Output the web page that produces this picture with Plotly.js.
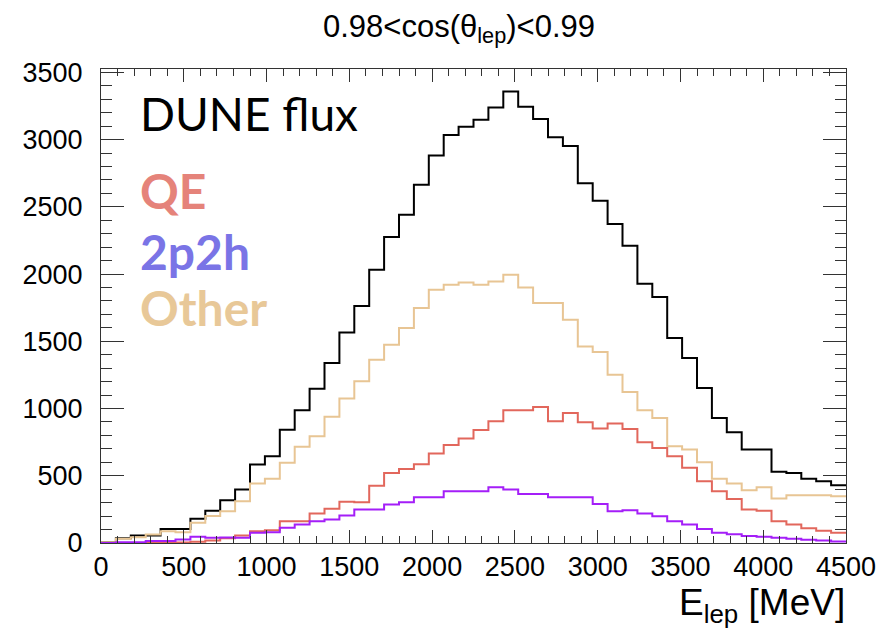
<!DOCTYPE html>
<html>
<head>
<meta charset="utf-8">
<script src="https://cdn.plot.ly/plotly-3.0.1.min.js"></script>
<style>html,body{margin:0;padding:0;background:#fff;}#chart{width:889px;height:631px;}</style>
</head>
<body>
<div id="chart"></div>
<script>
// Histogram binning: 50 bins of 90 MeV from 0 to 4500 MeV
const binWidth = 90;
const nBins = 50;

// Bin contents (events per bin)
const dune_flux = [5, 35, 56, 56, 105, 105, 180, 240, 318, 397,
  583, 645, 843, 987, 1148, 1339, 1566, 1762, 2032, 2275,
  2441, 2664, 2882, 3035, 3095, 3147, 3238, 3357, 3245, 3154,
  3018, 2953, 2676, 2546, 2372, 2210, 1928, 1829, 1525, 1376,
  1153, 930, 823, 695, 695, 530, 521, 478, 460, 430];

const other = [6, 31, 43, 63, 88, 80, 150, 200, 236, 311,
  442, 477, 596, 715, 794, 938, 1074, 1202, 1363, 1475,
  1599, 1748, 1883, 1921, 1938, 1921, 1945, 1995, 1901, 1785,
  1785, 1661, 1462, 1421, 1252, 1123, 987, 930, 719, 695,
  600, 477, 442, 392, 415, 331, 355, 355, 355, 348];

const qe = [0, 0, 0, 0, 0, 3, 10, 18, 35, 56,
  88, 95, 162, 162, 219, 254, 306, 303, 425, 521,
  551, 585, 665, 728, 778, 840, 905, 987, 987, 1012,
  905, 967, 898, 852, 888, 848, 749, 707, 645, 559,
  459, 385, 327, 249, 240, 162, 137, 110, 91, 76];

const twop2h = [0, 6, 6, 14, 14, 26, 46, 39, 40, 39,
  76, 80, 113, 137, 162, 175, 204, 249, 249, 286,
  303, 340, 340, 385, 385, 385, 415, 397, 365, 365,
  340, 340, 340, 290, 236, 244, 219, 199, 162, 137,
  105, 76, 66, 52, 46, 39, 31, 24, 18, 11];

const xTickVals = [0, 500, 1000, 1500, 2000, 2500, 3000, 3500, 4000, 4500];
const yTickVals = [0, 500, 1000, 1500, 2000, 2500, 3000, 3500];

const edges = [];
for (let i = 0; i <= nBins; i++) edges.push(i * binWidth);

function stepTrace(vals, color, name) {
  return {
    type: 'scatter', mode: 'lines', name: name,
    x: edges,
    y: vals.concat([vals[vals.length - 1]]),
    line: {shape: 'hv', color: color, width: 2},
    hoverinfo: 'skip'
  };
}

const traces = [
  stepTrace(dune_flux, '#000000', 'DUNE flux'),
  stepTrace(other, '#E8C594', 'Other'),
  stepTrace(qe, '#E2675C', 'QE'),
  stepTrace(twop2h, '#A41EF8', '2p2h')
];

const txtFamily = 'Liberation Sans, Arial, sans-serif';
const tickFont = {family: txtFamily, size: 27, color: '#000'};
const legFont = 'Lato, "Open Sans", sans-serif';

const layout = {
  width: 889, height: 631,
  margin: {l: 101, r: 43, t: 69, b: 88},
  paper_bgcolor: '#fff', plot_bgcolor: '#fff',
  showlegend: false,
  title: {
    text: '0.98<cos(θ<sub>lep</sub>)<0.99',
    font: {family: txtFamily, size: 31, color: '#000'},
    x: 459 / 889, xref: 'container', xanchor: 'center',
    y: 1 - 26 / 631, yref: 'container', yanchor: 'middle'
  },
  xaxis: {
    range: [0, 4500], showgrid: false, zeroline: false,
    tickmode: 'array', tickvals: xTickVals, ticktext: xTickVals.map(String),
    ticks: 'inside', ticklen: 13, tickwidth: 1, tickcolor: '#333',
    minor: {dtick: 100, ticks: 'inside', ticklen: 7, tickwidth: 1, tickcolor: '#333', showgrid: false},
    showline: true, linecolor: '#333', linewidth: 1, mirror: 'allticks',
    tickfont: tickFont
  },
  yaxis: {
    range: [0, 3525], showgrid: false, zeroline: false,
    tickmode: 'array', tickvals: yTickVals, ticktext: yTickVals.map(String),
    ticks: 'inside', ticklen: 23, tickwidth: 1, tickcolor: '#333',
    minor: {dtick: 100, ticks: 'inside', ticklen: 11, tickwidth: 1, tickcolor: '#333', showgrid: false},
    showline: true, linecolor: '#333', linewidth: 1, mirror: 'allticks',
    tickfont: tickFont, ticklabelstandoff: 12
  },
  annotations: [
    {text: 'E<sub>lep</sub> [MeV]', xref: 'paper', yref: 'paper', x: 1.002, y: (543.5 - 606) / 474.5,
     xanchor: 'right', yanchor: 'middle', showarrow: false,
     font: {family: txtFamily, size: 37, color: '#000'}},
    {text: 'DUNE flux', xref: 'paper', yref: 'paper', x: 37 / 745, y: (543.5 - 114) / 474.5,
     xanchor: 'left', yanchor: 'middle', showarrow: false,
     font: {family: legFont, size: 46, color: '#000000'}},
    {text: '<b>QE</b>', xref: 'paper', yref: 'paper', x: 37 / 745, y: (543.5 - 191) / 474.5,
     xanchor: 'left', yanchor: 'middle', showarrow: false,
     font: {family: legFont, size: 48, color: '#E5837A'}},
    {text: '<b>2p2h</b>', xref: 'paper', yref: 'paper', x: 37 / 745, y: (543.5 - 252) / 474.5,
     xanchor: 'left', yanchor: 'middle', showarrow: false,
     font: {family: legFont, size: 48, color: '#7A74E6'}},
    {text: '<b>Other</b>', xref: 'paper', yref: 'paper', x: 37 / 745, y: (543.5 - 308) / 474.5,
     xanchor: 'left', yanchor: 'middle', showarrow: false,
     font: {family: legFont, size: 48, color: '#E8C898'}}
  ]
};

Plotly.newPlot('chart', traces, layout, {staticPlot: true, displayModeBar: false});
</script>
</body>
</html>
